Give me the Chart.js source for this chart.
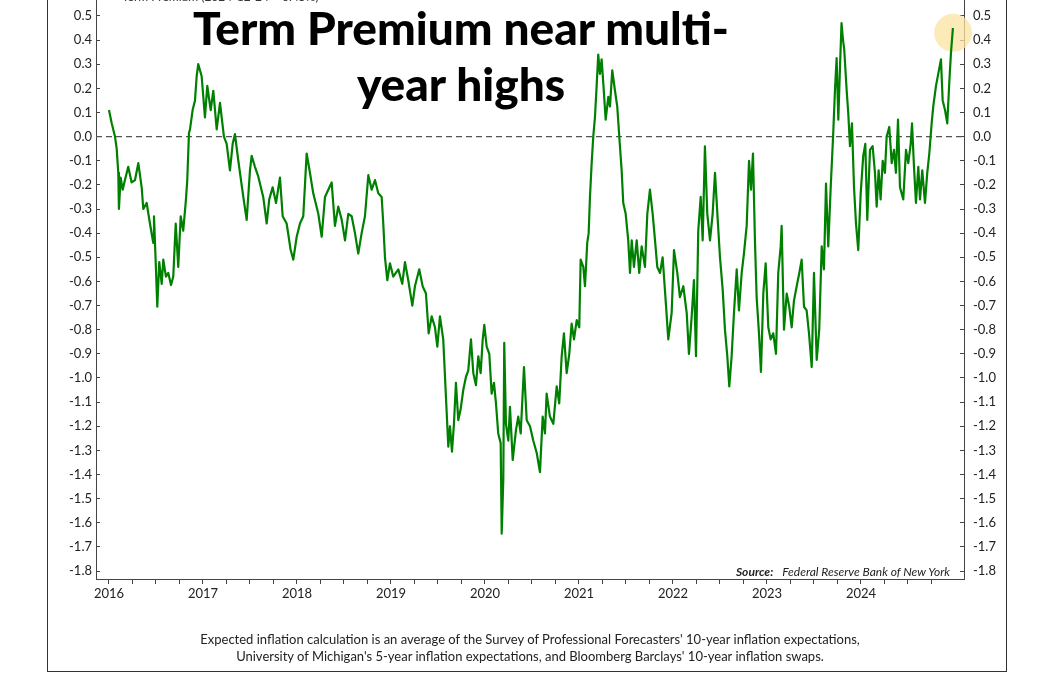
<!DOCTYPE html>
<html>
<head>
<meta charset="utf-8">
<script src="https://cdn.jsdelivr.net/npm/chart.js@4.4.1/dist/chart.umd.min.js"></script>
<style>
  html, body { margin: 0; padding: 0; background: #fff; overflow: hidden; }
  body { width: 1056px; height: 675px; position: relative; font-family: Lato, "Noto Sans", sans-serif; color: #222; }
  #wrap { position: absolute; left: 0; top: 0; width: 1056px; height: 675px; }
  .frame { position: absolute; left: 47px; top: -10px; width: 958px; height: 681px; border: 1px solid #333; border-top: none; }
  .legend { position: absolute; left: 122px; top: -11px; font-size: 12px; color: #333; white-space: nowrap; }
  .title { position: absolute; left: 461px; top: 0px; transform: translateX(-50%); text-align: center;
           font-size: 46px; font-weight: 900; line-height: 56px; color: #000; white-space: nowrap; }
  .source { position: absolute; right: 106px; top: 564px; font-size: 12px; font-style: italic; color: #222; white-space: nowrap; }
  .source b { margin-right: 9px; }
  .note { position: absolute; left: 530px; top: 631px; transform: translateX(-50%); text-align: center;
          font-size: 13px; line-height: 17px; color: #222; white-space: nowrap; }
</style>
</head>
<body>
<div id="wrap"><canvas id="chart"></canvas></div>
<div class="frame"></div>
<div class="legend">Term Premium (2024-12-24 = 0.45%)</div>
<div class="title">Term Premium near multi-<br>year highs</div>
<div class="source"><b>Source:</b>Federal Reserve Bank of New York</div>
<div class="note">Expected inflation calculation is an average of the Survey of Professional Forecasters' 10-year inflation expectations,<br>University of Michigan's 5-year inflation expectations, and Bloomberg Barclays' 10-year inflation swaps.</div>
<script>
// dates as decimal years, one row per calendar year
const years = [
  2016.000, 2016.029, 2016.064, 2016.082, 2016.099, 2016.106, 2016.124, 2016.146, 2016.170, 2016.205, 2016.241, 2016.277, 2016.312, 2016.348, 2016.365, 2016.401, 2016.436, 2016.471, 2016.479, 2016.500, 2016.514, 2016.535, 2016.561, 2016.578, 2016.606, 2016.631, 2016.660, 2016.684, 2016.710, 2016.737, 2016.763, 2016.790, 2016.819, 2016.833, 2016.851, 2016.862, 2016.890, 2016.915, 2016.933, 2016.950, 2016.986,
  2017.021, 2017.046, 2017.082, 2017.110, 2017.146, 2017.181, 2017.223, 2017.252, 2017.287, 2017.316, 2017.340, 2017.376, 2017.429, 2017.465, 2017.500, 2017.518, 2017.553, 2017.588, 2017.641, 2017.678, 2017.705, 2017.741, 2017.777, 2017.819, 2017.848, 2017.890, 2017.933, 2017.961, 2017.997,
  2018.032, 2018.067, 2018.103, 2018.138, 2018.173, 2018.227, 2018.263, 2018.298, 2018.333, 2018.369, 2018.404, 2018.439, 2018.476, 2018.511, 2018.546, 2018.582, 2018.617, 2018.652, 2018.688, 2018.723, 2018.759, 2018.795, 2018.830, 2018.865, 2018.901, 2018.918, 2018.936, 2018.961, 2018.989,
  2019.024, 2019.078, 2019.120, 2019.149, 2019.184, 2019.227, 2019.255, 2019.301, 2019.337, 2019.372, 2019.401, 2019.433, 2019.468, 2019.493, 2019.521, 2019.556, 2019.585, 2019.610, 2019.628, 2019.649, 2019.670, 2019.691, 2019.716, 2019.741, 2019.769, 2019.798, 2019.822, 2019.851, 2019.876, 2019.904, 2019.929, 2019.954, 2019.976, 2019.993,
  2020.018, 2020.046, 2020.071, 2020.096, 2020.117, 2020.141, 2020.167, 2020.178, 2020.195, 2020.205, 2020.223, 2020.248, 2020.266, 2020.295, 2020.330, 2020.354, 2020.380, 2020.415, 2020.444, 2020.479, 2020.514, 2020.550, 2020.585, 2020.614, 2020.638, 2020.656, 2020.691, 2020.727, 2020.763, 2020.790, 2020.816, 2020.840, 2020.869, 2020.897, 2020.922, 2020.947, 2020.976,
  2021.003, 2021.018, 2021.046, 2021.064, 2021.088, 2021.103, 2021.117, 2021.135, 2021.152, 2021.170, 2021.188, 2021.205, 2021.223, 2021.241, 2021.259, 2021.284, 2021.312, 2021.330, 2021.354, 2021.383, 2021.407, 2021.436, 2021.454, 2021.471, 2021.497, 2021.524, 2021.543, 2021.561, 2021.585, 2021.614, 2021.641, 2021.667, 2021.702, 2021.727, 2021.755, 2021.784, 2021.809, 2021.833, 2021.862, 2021.890, 2021.926, 2021.950, 2021.986,
  2022.011, 2022.046, 2022.074, 2022.110, 2022.146, 2022.170, 2022.199, 2022.223, 2022.245, 2022.269, 2022.295, 2022.316, 2022.340, 2022.365, 2022.394, 2022.422, 2022.447, 2022.476, 2022.500, 2022.529, 2022.553, 2022.578, 2022.599, 2022.624, 2022.649, 2022.678, 2022.702, 2022.731, 2022.755, 2022.784, 2022.809, 2022.830, 2022.851, 2022.872, 2022.890, 2022.915, 2022.936, 2022.961, 2022.986,
  2023.014, 2023.039, 2023.067, 2023.096, 2023.120, 2023.146, 2023.156, 2023.181, 2023.210, 2023.237, 2023.263, 2023.287, 2023.316, 2023.344, 2023.369, 2023.394, 2023.422, 2023.447, 2023.476, 2023.500, 2023.529, 2023.556, 2023.582, 2023.606, 2023.628, 2023.652, 2023.678, 2023.705, 2023.723, 2023.741, 2023.759, 2023.777, 2023.793, 2023.809, 2023.822, 2023.848, 2023.865, 2023.883, 2023.904, 2023.926, 2023.947, 2023.971, 2023.997,
  2024.024, 2024.046, 2024.067, 2024.096, 2024.124, 2024.149, 2024.167, 2024.188, 2024.209, 2024.231, 2024.255, 2024.273, 2024.301, 2024.327, 2024.351, 2024.372, 2024.394, 2024.415, 2024.450, 2024.479, 2024.503, 2024.529, 2024.543, 2024.564, 2024.585, 2024.610, 2024.628, 2024.652, 2024.681, 2024.705, 2024.727, 2024.752, 2024.769, 2024.798, 2024.822, 2024.851, 2024.869, 2024.894, 2024.918, 2024.939, 2024.957, 2024.978
];

// 10-year term premium, percent
const premium = [
  0.11, 0.055, 0.0, -0.05, -0.15, -0.30, -0.17, -0.22, -0.18, -0.125, -0.19, -0.18, -0.11, -0.21, -0.30, -0.275, -0.36, -0.44, -0.33, -0.55, -0.705, -0.52, -0.61, -0.51, -0.58, -0.565, -0.615, -0.58, -0.36, -0.54, -0.33, -0.39, -0.26, -0.18, 0.015, 0.03, 0.11, 0.15, 0.25, 0.30, 0.25,
  0.08, 0.21, 0.11, 0.19, 0.03, 0.14, 0.0, -0.03, -0.14, -0.03, 0.01, -0.10, -0.25, -0.345, -0.14, -0.08, -0.125, -0.165, -0.25, -0.36, -0.26, -0.21, -0.275, -0.17, -0.33, -0.36, -0.47, -0.51, -0.415,
  -0.36, -0.33, -0.07, -0.15, -0.235, -0.32, -0.415, -0.25, -0.22, -0.19, -0.37, -0.29, -0.345, -0.43, -0.32, -0.33, -0.40, -0.485, -0.40, -0.33, -0.16, -0.22, -0.18, -0.235, -0.25, -0.36, -0.50, -0.595, -0.525,
  -0.58, -0.55, -0.61, -0.52, -0.595, -0.70, -0.62, -0.55, -0.62, -0.65, -0.815, -0.745, -0.79, -0.87, -0.745, -0.84, -1.08, -1.285, -1.20, -1.305, -1.19, -1.02, -1.175, -1.13, -1.05, -0.995, -0.97, -0.84, -0.98, -1.03, -0.91, -0.98, -0.84, -0.78,
  -0.87, -0.90, -1.065, -1.02, -1.105, -1.23, -1.27, -1.645, -1.42, -0.855, -1.19, -1.26, -1.12, -1.34, -1.215, -1.16, -1.23, -0.955, -1.175, -1.20, -1.26, -1.31, -1.39, -1.16, -1.23, -1.065, -1.16, -1.19, -1.035, -1.105, -0.91, -0.815, -0.98, -0.90, -0.775, -0.84, -0.76,
  -0.79, -0.51, -0.54, -0.62, -0.44, -0.40, -0.25, -0.11, 0.0, 0.08, 0.21, 0.34, 0.26, 0.32, 0.22, 0.07, 0.165, 0.125, 0.275, 0.19, 0.125, -0.04, -0.14, -0.275, -0.32, -0.43, -0.565, -0.43, -0.54, -0.43, -0.565, -0.455, -0.54, -0.32, -0.22, -0.32, -0.43, -0.54, -0.565, -0.50, -0.70, -0.84, -0.73,
  -0.47, -0.565, -0.665, -0.62, -0.73, -0.90, -0.745, -0.595, -0.91, -0.39, -0.25, -0.43, -0.04, -0.32, -0.43, -0.32, -0.15, -0.345, -0.50, -0.635, -0.80, -0.91, -1.035, -0.91, -0.73, -0.55, -0.72, -0.565, -0.485, -0.37, -0.10, -0.22, -0.07, -0.43, -0.665, -0.815, -0.975, -0.65, -0.525,
  -0.79, -0.84, -0.815, -0.90, -0.565, -0.455, -0.37, -0.80, -0.65, -0.705, -0.79, -0.68, -0.62, -0.565, -0.51, -0.705, -0.72, -0.815, -0.955, -0.565, -0.925, -0.80, -0.455, -0.55, -0.195, -0.455, -0.21, 0.015, 0.19, 0.325, 0.07, 0.29, 0.47, 0.40, 0.36, 0.19, 0.095, -0.04, 0.055, -0.21, -0.36, -0.47, -0.235,
  -0.08, -0.03, -0.345, -0.055, -0.04, -0.15, -0.29, -0.14, -0.26, -0.10, -0.15, 0.0, 0.04, -0.11, -0.055, -0.15, 0.07, -0.21, -0.26, -0.055, -0.11, -0.03, 0.055, -0.125, -0.275, -0.125, -0.26, -0.14, -0.275, -0.15, -0.07, 0.055, 0.125, 0.21, 0.26, 0.32, 0.15, 0.11, 0.055, 0.22, 0.345, 0.45
];

// latest reading, circled on the chart
const highlightYear = [2024.98];
const highlightValue = [0.43];

// axis ranges
const xMin = 2015.862, xMax = 2025.096;
const yMin = -1.833, yMax = 0.566;
const lastTickYear = 2024.75;

const points = years.map((t, i) => ({ x: t, y: premium[i] }));
const zeroLine = [{ x: xMin, y: 0 }, { x: xMax, y: 0 }];
const circle = highlightYear.map((t, i) => ({ x: t, y: highlightValue[i] }));

const axisColor = "#444";
const tickFont = { family: "Lato", size: 13 };

function yLabel(v) {
    return (Math.round(v * 10) / 10).toFixed(1);
}

new Chart(document.getElementById("chart"), {
    type: "line",
    data: {
        datasets: [
            {
                data: points,
                borderColor: "rgb(0,128,0)",
                borderWidth: 2.2,
                borderJoinStyle: "round",
                pointRadius: 0,
                tension: 0,
                order: 1
            },
            {
                data: zeroLine,
                borderColor: "#555",
                borderWidth: 1.4,
                borderDash: [6, 4],
                pointRadius: 0,
                order: 2
            },
            {
                data: circle,
                showLine: false,
                pointRadius: 19,
                pointBorderWidth: 0,
                pointBackgroundColor: "rgba(251,228,160,0.75)",
                clip: false,
                order: 3
            }
        ]
    },
    options: {
        responsive: true,
        maintainAspectRatio: false,
        animation: false,
        layout: { padding: 0, autoPadding: false },
        plugins: { legend: { display: false }, tooltip: { enabled: false } },
        scales: {
            x: {
                type: "linear",
                min: xMin,
                max: xMax,
                afterFit: s => { s.height = 96; s.paddingLeft = 0; s.paddingRight = 0; },
                afterBuildTicks: s => { s.ticks = s.ticks.filter(t => t.value >= 2016 - 1e-6 && t.value <= lastTickYear + 1e-6); },
                grid: { drawOnChartArea: false, drawTicks: true, tickLength: 5, color: axisColor },
                border: { display: true, color: axisColor, width: 1 },
                ticks: {
                    stepSize: 0.25,
                    includeBounds: false,
                    autoSkip: false,
                    maxRotation: 0,
                    padding: 2,
                    color: "#222",
                    font: tickFont,
                    callback: v => Math.abs(v - Math.round(v)) < 1e-6 ? String(Math.round(v)) : ""
                }
            },
            y: {
                position: "left",
                min: yMin,
                max: yMax,
                afterFit: s => { s.width = 96; s.paddingTop = 0; s.paddingBottom = 0; },
                grid: { drawOnChartArea: false, drawTicks: true, tickLength: -4, color: axisColor },
                border: { display: true, color: axisColor, width: 1 },
                ticks: { stepSize: 0.1, includeBounds: false, autoSkip: false, padding: 8, color: "#222", font: tickFont, callback: yLabel }
            },
            y2: {
                position: "right",
                min: yMin,
                max: yMax,
                afterFit: s => { s.width = 92; s.paddingTop = 0; s.paddingBottom = 0; },
                grid: { drawOnChartArea: false, drawTicks: true, tickLength: -4, color: axisColor },
                border: { display: true, color: axisColor, width: 1 },
                ticks: { stepSize: 0.1, includeBounds: false, autoSkip: false, padding: 13, color: "#222", font: tickFont, callback: yLabel }
            }
        }
    }
});
</script>
</body>
</html>
